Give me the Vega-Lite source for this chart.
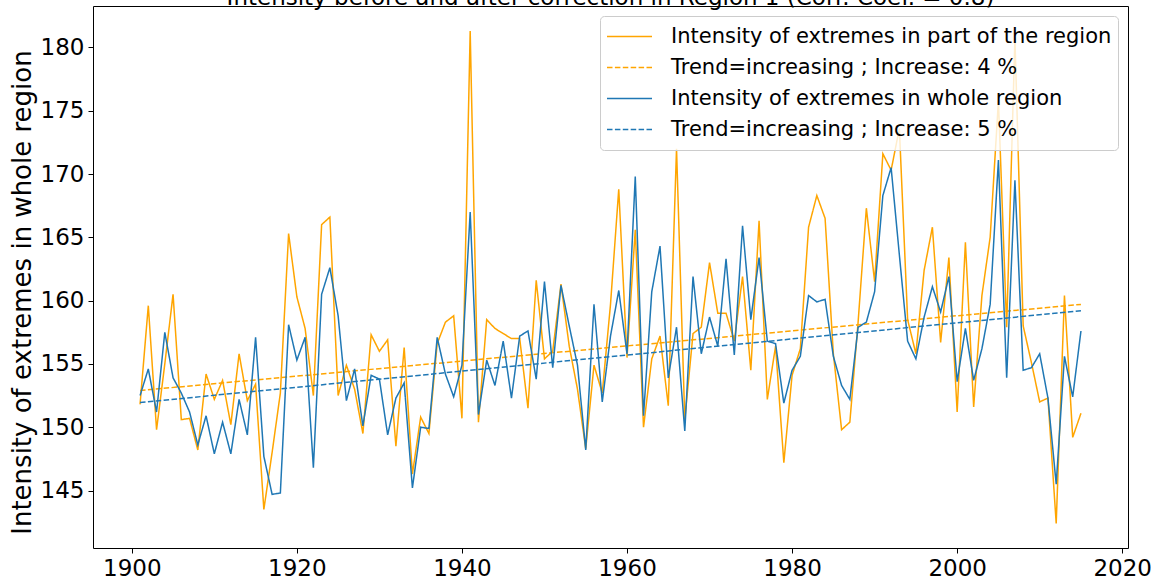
{
"$schema": "https://vega.github.io/schema/vega-lite/v6.json",
"width": 1035,
"height": 542,
"autosize": {"type": "none"},
"padding": {"left": 93, "top": 6, "right": 33, "bottom": 36},
"title": {"text": "Intensity before and after correction in Region 1 (Corr. Coef. = 0.8)", "fontSize": 23, "font": "DejaVu Sans", "fontWeight": "normal", "color": "black", "anchor": "middle", "frame": "group", "baseline": "bottom", "offset": -27},
"datasets": {
"obs": [
{"year":1901,"p":151.8,"w":152.5},{"year":1902,"p":159.6,"w":154.6},{"year":1903,"p":149.8,"w":151.2},{"year":1904,"p":155.0,"w":157.5},{"year":1905,"p":160.5,"w":153.9},
{"year":1906,"p":150.6,"w":152.7},{"year":1907,"p":150.7,"w":151.2},{"year":1908,"p":148.2,"w":148.6},{"year":1909,"p":154.2,"w":150.9},{"year":1910,"p":152.2,"w":147.9},
{"year":1911,"p":153.7,"w":150.4},{"year":1912,"p":150.2,"w":147.9},{"year":1913,"p":155.8,"w":152.2},{"year":1914,"p":152.1,"w":149.4},{"year":1915,"p":153.4,"w":157.1},
{"year":1916,"p":143.5,"w":147.7},{"year":1917,"p":148.0,"w":144.7},{"year":1918,"p":152.7,"w":144.8},{"year":1919,"p":165.3,"w":158.1},{"year":1920,"p":160.3,"w":155.3},
{"year":1921,"p":157.8,"w":157.1},{"year":1922,"p":152.5,"w":146.8},{"year":1923,"p":166.0,"w":160.5},{"year":1924,"p":166.6,"w":162.6},{"year":1925,"p":152.5,"w":158.8},
{"year":1926,"p":154.9,"w":152.1},{"year":1927,"p":153.0,"w":154.6},{"year":1928,"p":149.5,"w":150.1},{"year":1929,"p":157.3,"w":154.1},{"year":1930,"p":156.0,"w":153.8},
{"year":1931,"p":156.9,"w":149.4},{"year":1932,"p":148.5,"w":152.3},{"year":1933,"p":156.3,"w":153.5},{"year":1934,"p":146.3,"w":145.2},{"year":1935,"p":150.8,"w":150.0},
{"year":1936,"p":149.5,"w":149.9},{"year":1937,"p":156.6,"w":157.1},{"year":1938,"p":158.3,"w":154.2},{"year":1939,"p":158.8,"w":152.4},{"year":1940,"p":150.7,"w":154.9},
{"year":1941,"p":181.3,"w":167.0},{"year":1942,"p":150.4,"w":151.0},{"year":1943,"p":158.5,"w":155.3},{"year":1944,"p":157.8,"w":153.3},{"year":1945,"p":157.4,"w":156.8},
{"year":1946,"p":157.0,"w":152.3},{"year":1947,"p":157.0,"w":157.2},{"year":1948,"p":151.5,"w":157.6},{"year":1949,"p":161.6,"w":153.8},{"year":1950,"p":155.4,"w":161.5},
{"year":1951,"p":156.0,"w":154.7},{"year":1952,"p":161.3,"w":161.2},{"year":1953,"p":156.4,"w":158.0},{"year":1954,"p":153.0,"w":154.9},{"year":1955,"p":148.3,"w":148.2},
{"year":1956,"p":154.9,"w":159.7},{"year":1957,"p":152.7,"w":152.0},{"year":1958,"p":159.7,"w":157.2},{"year":1959,"p":168.8,"w":160.8},{"year":1960,"p":155.5,"w":155.8},
{"year":1961,"p":165.6,"w":169.8},{"year":1962,"p":150.0,"w":150.9},{"year":1963,"p":155.4,"w":160.7},{"year":1964,"p":157.2,"w":164.3},{"year":1965,"p":151.7,"w":153.9},
{"year":1966,"p":172.0,"w":157.9},{"year":1967,"p":150.6,"w":149.7},{"year":1968,"p":157.4,"w":161.9},{"year":1969,"p":157.9,"w":155.8},{"year":1970,"p":163.0,"w":158.7},
{"year":1971,"p":159.0,"w":156.4},{"year":1972,"p":159.0,"w":163.3},{"year":1973,"p":156.8,"w":155.7},{"year":1974,"p":161.9,"w":165.9},{"year":1975,"p":154.5,"w":158.5},
{"year":1976,"p":166.3,"w":163.4},{"year":1977,"p":152.2,"w":156.8},{"year":1978,"p":156.4,"w":156.6},{"year":1979,"p":147.2,"w":151.9},{"year":1980,"p":154.1,"w":154.5},
{"year":1981,"p":156.2,"w":155.6},{"year":1982,"p":165.8,"w":160.4},{"year":1983,"p":168.3,"w":159.9},{"year":1984,"p":166.5,"w":160.1},{"year":1985,"p":155.8,"w":155.6},
{"year":1986,"p":149.8,"w":153.3},{"year":1987,"p":150.4,"w":152.2},{"year":1988,"p":158.3,"w":157.9},{"year":1989,"p":167.3,"w":158.3},{"year":1990,"p":161.5,"w":160.7},
{"year":1991,"p":171.6,"w":168.3},{"year":1992,"p":170.3,"w":170.5},{"year":1993,"p":173.6,"w":163.6},{"year":1994,"p":158.5,"w":156.8},{"year":1995,"p":155.8,"w":155.4},
{"year":1996,"p":162.4,"w":158.7},{"year":1997,"p":165.8,"w":161.1},{"year":1998,"p":156.7,"w":159.1},{"year":1999,"p":163.4,"w":161.9},{"year":2000,"p":151.2,"w":153.6},
{"year":2001,"p":164.6,"w":157.8},{"year":2002,"p":151.6,"w":153.7},{"year":2003,"p":160.4,"w":156.2},{"year":2004,"p":165.0,"w":159.7},{"year":2005,"p":175.8,"w":171.1},
{"year":2006,"p":157.9,"w":153.9},{"year":2007,"p":180.7,"w":169.5},{"year":2008,"p":158.0,"w":154.5},{"year":2009,"p":155.1,"w":154.7},{"year":2010,"p":152.0,"w":155.8},
{"year":2011,"p":152.3,"w":152.3},{"year":2012,"p":142.4,"w":145.5},{"year":2013,"p":160.4,"w":155.6},{"year":2014,"p":149.2,"w":152.4},{"year":2015,"p":151.1,"w":157.6}
],
"trend": [
{"year":1901,"p":152.9,"w":151.95},
{"year":2015,"p":159.7,"w":159.2}
]
},
"encoding": {
"x": {"field": "year", "type": "quantitative",
 "scale": {"domain": [1895.3, 2020.7], "nice": false, "zero": false},
 "axis": {"values": [1900,1920,1940,1960,1980,2000,2020], "format": "d", "title": null}}
},
"layer": [
{"data": {"name": "obs"}, "mark": {"type": "line", "strokeWidth": 1.5},
 "encoding": {"y": {"field": "p", "type": "quantitative"},
  "color": {"datum": "Intensity of extremes in part of the region"},
  "strokeDash": {"datum": "Intensity of extremes in part of the region"}}},
{"data": {"name": "trend"}, "mark": {"type": "line", "strokeWidth": 1.5},
 "encoding": {"y": {"field": "p", "type": "quantitative"},
  "color": {"datum": "Trend=increasing ; Increase: 4 %"},
  "strokeDash": {"datum": "Trend=increasing ; Increase: 4 %"}}},
{"data": {"name": "obs"}, "mark": {"type": "line", "strokeWidth": 1.5},
 "encoding": {"y": {"field": "w", "type": "quantitative"},
  "color": {"datum": "Intensity of extremes in whole region"},
  "strokeDash": {"datum": "Intensity of extremes in whole region"}}},
{"data": {"name": "trend"}, "mark": {"type": "line", "strokeWidth": 1.5},
 "encoding": {"y": {"field": "w", "type": "quantitative",
   "scale": {"domain": [140.46, 183.27], "nice": false, "zero": false},
   "axis": {"values": [145,150,155,160,165,170,175,180], "title": "Intensity of extremes in whole region", "titleY": 286}},
  "color": {"datum": "Trend=increasing ; Increase: 5 %",
   "scale": {"domain": ["Intensity of extremes in part of the region", "Trend=increasing ; Increase: 4 %", "Intensity of extremes in whole region", "Trend=increasing ; Increase: 5 %"],
             "range": ["#FFA500", "#FFA500", "#1f77b4", "#1f77b4"]}},
  "strokeDash": {"datum": "Trend=increasing ; Increase: 5 %",
   "scale": {"domain": ["Intensity of extremes in part of the region", "Trend=increasing ; Increase: 4 %", "Intensity of extremes in whole region", "Trend=increasing ; Increase: 5 %"],
             "range": [[1,0],[5.5,2.4],[1,0],[5.5,2.4]]}}}}
],
"config": {
 "font": "DejaVu Sans",
 "view": {"stroke": "black", "strokeWidth": 1},
 "axis": {"grid": false, "domain": false, "tickColor": "black", "tickSize": 5, "tickWidth": 1,
  "labelFontSize": 23, "labelColor": "black", "labelPadding": 4, "labelFont": "DejaVu Sans",
  "titleFontSize": 26, "titleFontWeight": "normal", "titleColor": "black", "titleFont": "DejaVu Sans", "titlePadding": 5},
 "legend": {"orient": "top-right", "offset": 10, "title": null, "symbolType": "stroke", "symbolSize": 2025,
  "symbolStrokeWidth": 1.5, "clipHeight": 29, "labelFontSize": 21, "labelFont": "DejaVu Sans", "labelColor": "black",
  "labelOffset": 18, "labelLimit": 800, "rowPadding": 2, "padding": 6, "strokeColor": "#cccccc",
  "fillColor": "rgba(255,255,255,0.8)", "cornerRadius": 4}
}
}
